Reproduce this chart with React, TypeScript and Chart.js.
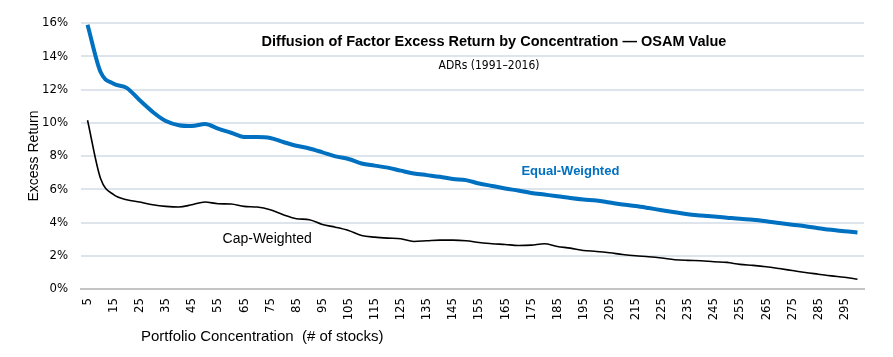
import React, { useEffect, useRef } from 'react';
import { Chart, registerables } from 'chart.js';

Chart.register(...registerables);

const concentration = [
  5, 10, 15, 20, 25, 30, 35, 40, 45, 50, 55, 60, 65, 70, 75, 80, 85, 90, 95, 100,
  105, 110, 115, 120, 125, 130, 135, 140, 145, 150, 155, 160, 165, 170, 175, 180, 185, 190, 195, 200,
  205, 210, 215, 220, 225, 230, 235, 240, 245, 250, 255, 260, 265, 270, 275, 280, 285, 290, 295, 300,
];

const equalWeighted = [
  15.9, 13.05, 12.35, 12.1, 11.35, 10.65, 10.1, 9.85, 9.8, 9.93, 9.65, 9.4, 9.15, 9.14, 9.08, 8.84, 8.62, 8.45, 8.22, 7.98,
  7.82, 7.55, 7.42, 7.3, 7.12, 6.95, 6.85, 6.75, 6.62, 6.55, 6.35, 6.2, 6.05, 5.92, 5.78, 5.68, 5.58, 5.47, 5.38, 5.32,
  5.2, 5.08, 4.99, 4.87, 4.74, 4.62, 4.49, 4.42, 4.36, 4.29, 4.22, 4.17, 4.08, 3.97, 3.87, 3.78, 3.66, 3.56, 3.47, 3.4,
];

const capWeighted = [
  10.15, 6.64, 5.67, 5.37, 5.23, 5.07, 4.97, 4.93, 5.07, 5.23, 5.13, 5.11, 4.97, 4.93, 4.77, 4.47, 4.23, 4.17, 3.88, 3.72,
  3.52, 3.22, 3.12, 3.06, 3.02, 2.86, 2.9, 2.94, 2.94, 2.9, 2.8, 2.72, 2.68, 2.62, 2.64, 2.72, 2.56, 2.46, 2.32, 2.26,
  2.18, 2.08, 2.0, 1.94, 1.86, 1.76, 1.72, 1.7, 1.64, 1.6, 1.48, 1.42, 1.34, 1.23, 1.11, 0.99, 0.89, 0.79, 0.71, 0.59,
];

const TITLE = 'Diffusion of Factor Excess Return by Concentration \u2014 OSAM Value';
const SUBTITLE = 'ADRs (1991\u20132016)';
const X_TITLE = 'Portfolio Concentration  (# of stocks)';
const Y_TITLE = 'Excess Return';

const BLUE = '#0070C0';
const NARROW = '"Liberation Sans Narrow", "Arial Narrow", "DejaVu Sans Condensed", sans-serif';
const SANS = '"Liberation Sans", Arial, Helvetica, sans-serif';

const textPlugin = {
  id: 'textOverlay',
  afterDraw(chart: any) {
    const ctx = chart.ctx;
    const xs = chart.scales.x;
    const ys = chart.scales.y;
    ctx.save();
    ctx.textBaseline = 'middle';
    ctx.textAlign = 'center';

    ctx.fillStyle = '#000';
    ctx.font = `bold 14.5px ${SANS}`;
    ctx.fillText(TITLE, 494, 42);

    ctx.font = `12px ${NARROW}`;
    ctx.fillText(SUBTITLE, 489, 66);

    ctx.fillStyle = BLUE;
    ctx.font = `bold 13px ${SANS}`;
    ctx.fillText('Equal-Weighted', xs.getPixelForValue(concentration.indexOf(190)), ys.getPixelForValue(7.1));

    ctx.fillStyle = '#000';
    ctx.font = `14px ${SANS}`;
    ctx.fillText('Cap-Weighted', xs.getPixelForValue(concentration.indexOf(70)) + 10, ys.getPixelForValue(3.0));

    ctx.textAlign = 'left';
    ctx.font = `15px ${SANS}`;
    ctx.fillText(X_TITLE, 141, 337);
    ctx.restore();
  },
};

export default function App() {
  const ref = useRef<HTMLCanvasElement>(null);

  useEffect(() => {
    if (!ref.current) return;
    const chart = new Chart(ref.current, {
      type: 'line',
      data: {
        labels: concentration.map(String),
        datasets: [
          {
            label: 'Cap-Weighted',
            data: capWeighted,
            borderColor: '#000000',
            borderWidth: 1.6,
            pointRadius: 0,
            tension: 0.3,
            cubicInterpolationMode: 'monotone',
            fill: false,
          },
          {
            label: 'Equal-Weighted',
            data: equalWeighted,
            borderColor: BLUE,
            borderWidth: 4,
            pointRadius: 0,
            tension: 0.3,
            cubicInterpolationMode: 'monotone',
            fill: false,
          },
        ],
      },
      options: {
        responsive: false,
        animation: false,
        layout: { padding: { left: 0, right: 29, top: 23, bottom: 0 } },
        plugins: {
          legend: { display: false },
          tooltip: { enabled: false },
          title: { display: false },
        },
        scales: {
          x: {
            type: 'category',
            offset: true,
            grid: { display: false, drawTicks: false },
            border: { display: true, color: '#c4c4c4', width: 2 },
            ticks: {
              autoSkip: false,
              maxRotation: 90,
              minRotation: 90,
              padding: 9,
              color: '#000',
              font: { family: NARROW, size: 13 },
              callback: (_v: any, i: number) => (i % 2 === 0 ? String(concentration[i]) : ''),
            },
            afterFit: (s: any) => {
              s.height = 68;
            },
          },
          y: {
            min: 0,
            max: 16,
            grid: { color: '#dde4ec', lineWidth: 2, drawTicks: false },
            border: { display: false },
            ticks: {
              stepSize: 2,
              padding: 13,
              color: '#000',
              font: { family: NARROW, size: 13 },
              callback: (v: any) => `${v}%`,
            },
            title: {
              display: true,
              text: Y_TITLE,
              color: '#000',
              font: { family: SANS, size: 14 },
              padding: { top: 26, bottom: 0 },
            },
            afterFit: (s: any) => {
              s.width = 81;
            },
          },
        },
      },
      plugins: [textPlugin],
    });
    return () => chart.destroy();
  }, []);

  return (
    <div style={{ position: 'fixed', left: 0, top: 0, width: 893, height: 357, background: '#fff' }}>
      <canvas ref={ref} width={893} height={357} style={{ display: 'block' }} />
    </div>
  );
}
